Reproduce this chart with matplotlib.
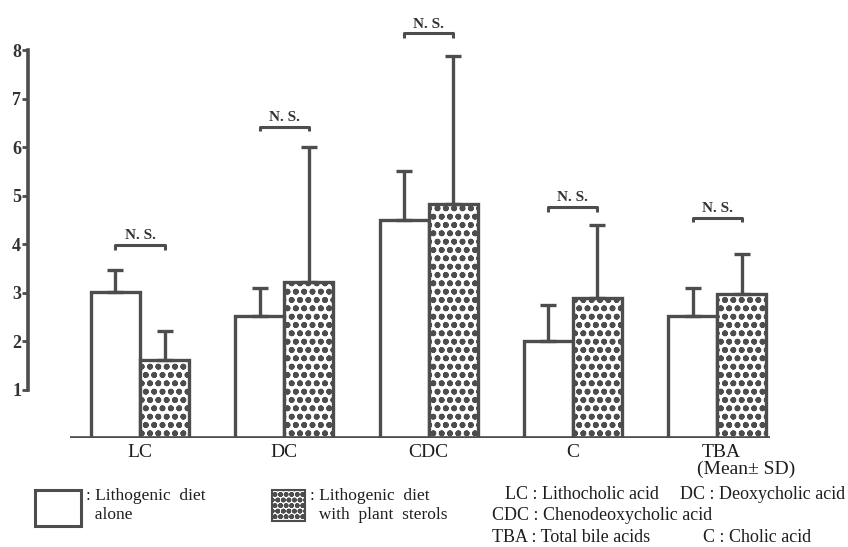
import matplotlib.pyplot as plt
import matplotlib.patches as mpatches
import numpy as np

plt.rcParams["font.family"] = ["Liberation Serif", "DejaVu Serif"]
plt.rcParams["hatch.linewidth"] = 1.8

# values (bile acid groups, mean and mean + SD)
groups = ["LC", "DC", "CDC", "C", "TBA"]
alone_mean = [3.02, 2.51, 4.50, 2.00, 2.51]
alone_upper = [3.46, 3.09, 5.51, 2.74, 3.09]
sterol_mean = [1.60, 3.23, 4.84, 2.90, 2.98]
sterol_upper = [2.20, 6.00, 7.88, 4.40, 3.79]
ns_heights = [3.99, 6.43, 8.35, 4.77, 4.55]

ink = "#4d4d4d"
txt = "#1e1e1e"
dots = "oo.."
x = np.arange(len(groups))
off = 0.17
width = 0.34

fig = plt.figure(figsize=(8.48, 5.47), dpi=100)
ax = fig.add_axes([28 / 848, 109 / 547, 772 / 848, 436 / 547])

alone_err = np.array(alone_upper) - np.array(alone_mean)
sterol_err = np.array(sterol_upper) - np.array(sterol_mean)
err_style = dict(ecolor=ink, elinewidth=2.4, capsize=6, capthick=2.4)

ax.bar(x - off, alone_mean, width, color="white", edgecolor=ink, linewidth=2.4,
       yerr=[np.zeros(len(x)), alone_err], error_kw=err_style, zorder=3)
ax.bar(x + off, sterol_mean, width, color="white", edgecolor=ink, linewidth=2.4,
       hatch=dots, yerr=[np.zeros(len(x)), sterol_err], error_kw=err_style, zorder=3)

# N.S. brackets
for xi, h in zip(x, ns_heights):
    ax.plot([xi - off, xi - off, xi + off, xi + off], [h - 0.1, h, h, h - 0.1],
            color=ink, lw=2.2, solid_capstyle="butt", zorder=4)
    ax.text(xi, h + 0.06, "N. S.", ha="center", va="bottom", fontsize=11,
            fontweight="bold", color="#333333")

# baseline that does not touch the y axis
ax.plot([-0.485, 4.366], [0, 0], color=ink, lw=2.6, solid_capstyle="butt", zorder=5)

ax.set_xlim(-0.776, 4.574)
ax.set_ylim(0, 9)
ax.set_yticks(range(1, 9))
ax.set_yticklabels([str(v) for v in range(1, 9)], fontsize=13, fontweight="bold",
                   color="#333333")
ax.tick_params(axis="y", direction="out", length=4, width=2, color=ink, pad=1)
ax.set_xticks([])
for side in ["top", "right", "bottom"]:
    ax.spines[side].set_visible(False)
ax.spines["left"].set_bounds(1, 8)
ax.spines["left"].set_linewidth(2.6)
ax.spines["left"].set_color(ink)

for xi, name in zip(x, groups):
    ax.text(xi + (0.03 if name == "TBA" else 0), -0.12, name, ha="center", va="top",
            fontsize=14, color=txt)
ax.text(x[-1] + 0.2, -0.47, "(Mean\u00b1 SD)", ha="center", va="top", fontsize=14,
        color=txt)

# legend at the bottom
fig.patches.append(mpatches.Rectangle((35 / 848, 1 - 526 / 547), 46 / 848, 36 / 547,
                                      transform=fig.transFigure, facecolor="white",
                                      edgecolor=ink, linewidth=2.2))
fig.patches.append(mpatches.Rectangle((272 / 848, 1 - 521 / 547), 33 / 848, 31 / 547,
                                      transform=fig.transFigure, facecolor="white",
                                      edgecolor=ink, linewidth=1.5, hatch="ooo..."))
fig.text(86 / 848, 1 - 488 / 547, ": Lithogenic  diet\n  alone", ha="left", va="top",
         fontsize=12.5, color=txt, linespacing=1.25)
fig.text(310 / 848, 1 - 488 / 547, ": Lithogenic  diet\n  with  plant  sterols",
         ha="left", va="top", fontsize=12.5, color=txt, linespacing=1.25)
abbrev = [
    (505, 486, "LC : Lithocholic acid"),
    (680, 486, "DC : Deoxycholic acid"),
    (492, 507, "CDC : Chenodeoxycholic acid"),
    (492, 529, "TBA : Total bile acids"),
    (703, 529, "C : Cholic acid"),
]
for px, py, label in abbrev:
    fig.text(px / 848, 1 - py / 547, label, ha="left", va="top", fontsize=13,
             color=txt)

fig.savefig("out.png", dpi=100, facecolor="white")
